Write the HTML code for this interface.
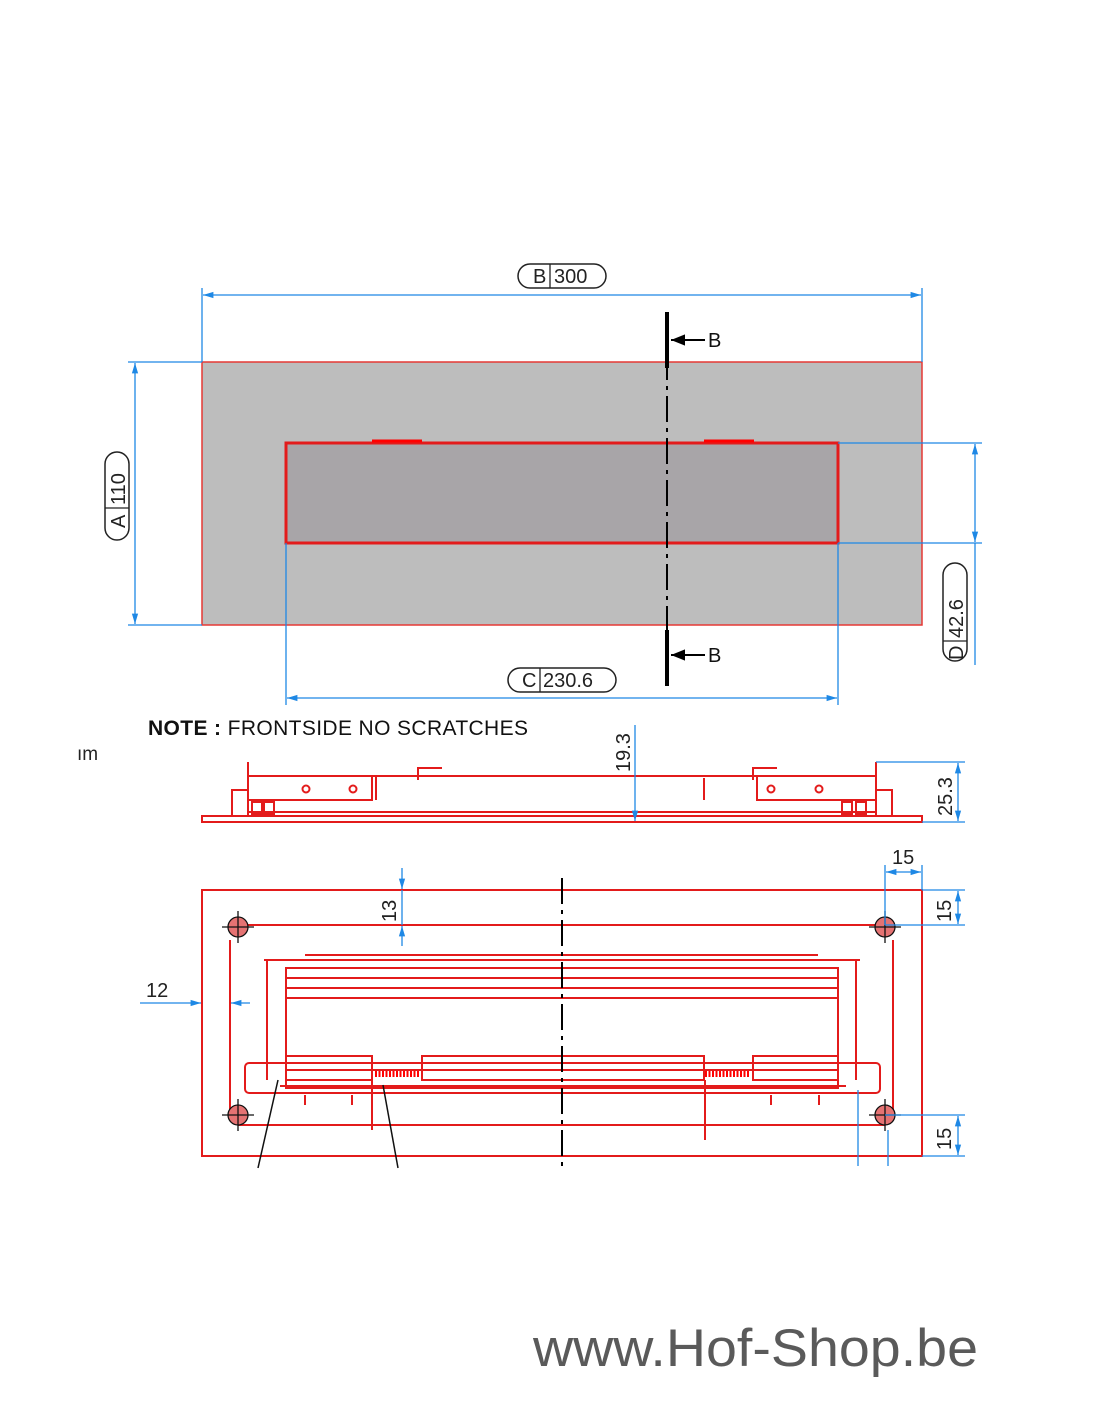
<!DOCTYPE html>
<html><head><meta charset="utf-8"><style>body{margin:0;background:#fff}svg{display:block}</style></head><body>
<svg width="1100" height="1422" viewBox="0 0 1100 1422" xmlns="http://www.w3.org/2000/svg" font-family="Liberation Sans, sans-serif">
<defs>
<marker id="a" viewBox="0 0 10 10" refX="10" refY="5" markerWidth="8" markerHeight="8" orient="auto-start-reverse"><path d="M0,2 L10,5 L0,8z" fill="#1e88e5"/></marker>
<marker id="k" viewBox="0 0 10 10" refX="10" refY="5" markerWidth="7" markerHeight="7" orient="auto"><path d="M0,1 L10,5 L0,9z" fill="#000"/></marker>
</defs>
<rect x="202" y="362" width="720" height="263" fill="#bdbdbd" stroke="#e53935" stroke-width="1.5"/>
<rect x="286" y="443" width="552" height="100" fill="#a8a5a8" stroke="#e31b1b" stroke-width="3"/>
<line x1="372" y1="441" x2="422" y2="441" stroke="#f00" stroke-width="3"/>
<line x1="704" y1="441" x2="754" y2="441" stroke="#f00" stroke-width="3"/>
<g stroke="#1e88e5" stroke-width="1.3" fill="none">
<line x1="202" y1="288" x2="202" y2="362"/><line x1="922" y1="288" x2="922" y2="362"/>
<line x1="203" y1="295" x2="921" y2="295" marker-start="url(#a)" marker-end="url(#a)"/>
<line x1="128" y1="362" x2="202" y2="362"/><line x1="128" y1="625" x2="202" y2="625"/>
<line x1="135" y1="363" x2="135" y2="624" marker-start="url(#a)" marker-end="url(#a)"/>
<line x1="838" y1="443" x2="982" y2="443"/><line x1="838" y1="543" x2="982" y2="543"/>
<line x1="975" y1="444" x2="975" y2="542" marker-start="url(#a)" marker-end="url(#a)"/>
<line x1="975" y1="543" x2="975" y2="665"/>
<line x1="286" y1="543" x2="286" y2="705"/><line x1="838" y1="543" x2="838" y2="705"/>
<line x1="287" y1="698" x2="837" y2="698" marker-start="url(#a)" marker-end="url(#a)"/>
</g>
<g fill="#fff" stroke="#222" stroke-width="1.5">
<rect x="518" y="264" width="88" height="24" rx="12"/>
<rect x="508" y="668" width="108" height="24" rx="12"/>
<rect x="105" y="452" width="24" height="88" rx="12"/>
<rect x="943" y="563" width="24" height="98" rx="12"/>
</g>
<g stroke="#222" stroke-width="1.3"><line x1="550" y1="264" x2="550" y2="288"/><line x1="540" y1="668" x2="540" y2="692"/><line x1="105" y1="508" x2="129" y2="508"/><line x1="943" y1="641" x2="967" y2="641"/></g>
<g font-size="20" fill="#222">
<text x="533" y="283">B</text><text x="554" y="283">300</text>
<text x="522" y="687">C</text><text x="543" y="687">230.6</text>
<text transform="translate(125,528) rotate(-90)">A</text><text transform="translate(125,505) rotate(-90)">110</text>
<text transform="translate(963,660) rotate(-90)">D</text><text transform="translate(963,638) rotate(-90)">42.6</text>
</g>
<line x1="667" y1="312" x2="667" y2="685" stroke="#000" stroke-width="2" stroke-dasharray="26,6,4,6"/>
<line x1="667" y1="312" x2="667" y2="368" stroke="#000" stroke-width="4"/>
<line x1="667" y1="630" x2="667" y2="686" stroke="#000" stroke-width="4"/>
<line x1="705" y1="340" x2="671" y2="340" stroke="#000" stroke-width="2" marker-end="url(#k)"/>
<line x1="705" y1="655" x2="671" y2="655" stroke="#000" stroke-width="2" marker-end="url(#k)"/>
<text x="708" y="347" font-size="20" fill="#111">B</text><text x="708" y="662" font-size="20" fill="#111">B</text>
<text x="148" y="735" font-size="21" fill="#111" textLength="380"><tspan font-weight="bold">NOTE :</tspan> FRONTSIDE NO SCRATCHES</text>
<text x="77" y="760" font-size="19" fill="#222">ım</text>
<g stroke="#e31b1b" stroke-width="2" fill="none">
<rect x="202" y="816" width="720" height="6"/>
<line x1="248" y1="776" x2="876" y2="776"/>
<line x1="248" y1="762" x2="248" y2="816"/><line x1="876" y1="762" x2="876" y2="816"/>
<rect x="248" y="776" width="124" height="24"/><rect x="757" y="776" width="119" height="24"/>
<line x1="376" y1="776" x2="376" y2="800"/><line x1="704" y1="778" x2="704" y2="800"/>
<polyline points="418,780 418,768 442,768"/><polyline points="753,780 753,768 777,768"/>
<rect x="232" y="790" width="16" height="26"/><rect x="876" y="790" width="16" height="26"/>
<rect x="252" y="802" width="10" height="12"/><rect x="264" y="802" width="10" height="12"/>
<rect x="842" y="802" width="10" height="12"/><rect x="856" y="802" width="10" height="12"/>
<line x1="248" y1="812" x2="876" y2="812"/>
<circle cx="306" cy="789" r="3.5"/><circle cx="353" cy="789" r="3.5"/><circle cx="771" cy="789" r="3.5"/><circle cx="819" cy="789" r="3.5"/>
</g>
<g stroke="#1e88e5" stroke-width="1.3" fill="none">
<line x1="635" y1="725" x2="635" y2="821" marker-end="url(#a)"/>
<line x1="876" y1="762" x2="965" y2="762"/><line x1="922" y1="822" x2="965" y2="822"/>
<line x1="958" y1="763" x2="958" y2="821" marker-start="url(#a)" marker-end="url(#a)"/>
</g>
<text transform="translate(630,772) rotate(-90)" font-size="20" fill="#222">19.3</text>
<text transform="translate(952,816) rotate(-90)" font-size="20" fill="#222">25.3</text>
<g stroke="#e31b1b" stroke-width="2" fill="none">
<rect x="202" y="890" width="720" height="266"/>
<line x1="238" y1="925" x2="885" y2="925"/><line x1="238" y1="1125" x2="885" y2="1125"/>
<line x1="230" y1="940" x2="230" y2="1112"/><line x1="893" y1="940" x2="893" y2="1112"/>
<line x1="305" y1="955" x2="818" y2="955"/><line x1="264" y1="960" x2="860" y2="960"/>
<line x1="267" y1="960" x2="267" y2="1080"/><line x1="856" y1="960" x2="856" y2="1080"/>
<rect x="286" y="968" width="552" height="120"/>
<line x1="286" y1="978" x2="838" y2="978"/><line x1="286" y1="988" x2="838" y2="988"/><line x1="286" y1="998" x2="838" y2="998"/>
<rect x="245" y="1063" width="635" height="30" rx="4"/>
<rect x="286" y="1056" width="86" height="24"/><rect x="422" y="1056" width="282" height="24"/><rect x="753" y="1056" width="85" height="24"/>
<line x1="286" y1="1070" x2="838" y2="1070"/><line x1="280" y1="1086" x2="846" y2="1086"/>
<line x1="372" y1="1080" x2="372" y2="1130"/><line x1="705" y1="1080" x2="705" y2="1140"/>
<line x1="305" y1="1095" x2="305" y2="1105"/><line x1="352" y1="1095" x2="352" y2="1105"/><line x1="771" y1="1095" x2="771" y2="1105"/><line x1="819" y1="1095" x2="819" y2="1105"/>
</g>
<g stroke="#f00" stroke-width="6" stroke-dasharray="2,1.5"><line x1="375" y1="1074" x2="420" y2="1074"/><line x1="705" y1="1074" x2="750" y2="1074"/></g>
<g fill="#e57373" stroke="#111" stroke-width="1.3">
<circle cx="238" cy="927" r="10"/><circle cx="885" cy="927" r="10"/><circle cx="238" cy="1115" r="10"/><circle cx="885" cy="1115" r="10"/>
<path d="M222,927h32M238,911v32M869,927h32M885,911v32M222,1115h32M238,1099v32M869,1115h32M885,1099v32" fill="none"/>
</g>
<line x1="562" y1="878" x2="562" y2="1166" stroke="#000" stroke-width="2" stroke-dasharray="26,6,4,6"/>
<g stroke="#111" stroke-width="1.5"><line x1="278" y1="1080" x2="258" y2="1168"/><line x1="383" y1="1085" x2="398" y2="1168"/></g>
<g stroke="#1e88e5" stroke-width="1.3" fill="none">
<line x1="402" y1="868" x2="402" y2="889" marker-end="url(#a)"/><line x1="402" y1="946" x2="402" y2="926" marker-end="url(#a)"/><line x1="402" y1="890" x2="402" y2="925"/>
<line x1="140" y1="1003" x2="201" y2="1003" marker-end="url(#a)"/><line x1="250" y1="1003" x2="231" y2="1003" marker-end="url(#a)"/>
<line x1="885" y1="865" x2="885" y2="925"/><line x1="922" y1="865" x2="922" y2="890"/>
<line x1="886" y1="872" x2="921" y2="872" marker-start="url(#a)" marker-end="url(#a)"/>
<line x1="922" y1="890" x2="965" y2="890"/><line x1="885" y1="925" x2="965" y2="925"/>
<line x1="958" y1="891" x2="958" y2="924" marker-start="url(#a)" marker-end="url(#a)"/>
<line x1="885" y1="1115" x2="965" y2="1115"/><line x1="922" y1="1156" x2="965" y2="1156"/>
<line x1="958" y1="1116" x2="958" y2="1155" marker-start="url(#a)" marker-end="url(#a)"/>
<line x1="858" y1="1090" x2="858" y2="1166"/><line x1="888" y1="1130" x2="888" y2="1166"/>
</g>
<g font-size="20" fill="#222">
<text transform="translate(396,922) rotate(-90)">13</text>
<text x="146" y="997">12</text>
<text x="892" y="864">15</text>
<text transform="translate(951,922) rotate(-90)">15</text>
<text transform="translate(951,1150) rotate(-90)">15</text>
</g>
<text x="533" y="1366" font-size="53" fill="#5a5a5a" textLength="445" lengthAdjust="spacingAndGlyphs">www.Hof-Shop.be</text>
</svg>
</body></html>
